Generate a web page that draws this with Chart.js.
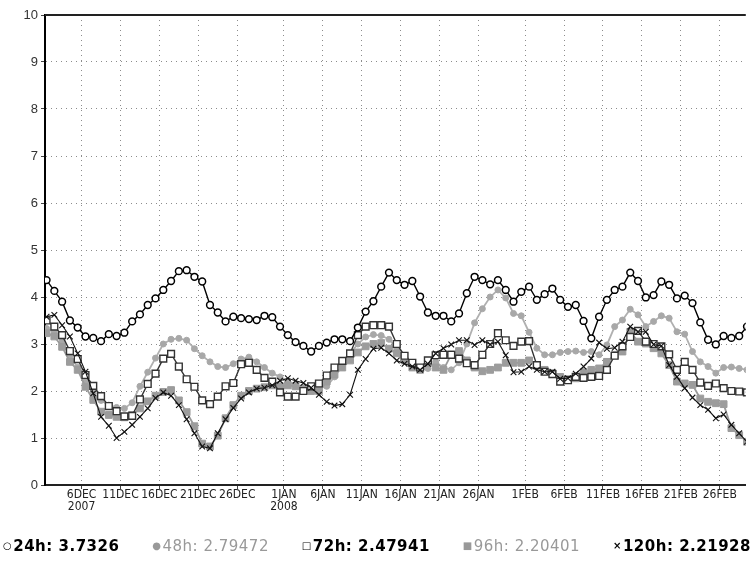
<!DOCTYPE html>
<html>
<head>
<meta charset="utf-8">
<script src="https://cdn.jsdelivr.net/npm/chart.js@4.4.1/dist/chart.umd.min.js"></script>
<style>
  body { margin: 0; background: #fff; }
  #wrap { position: relative; width: 752px; height: 562px; overflow: hidden; }
  #legend { position: absolute; left: 3px; top: 537px; width: 748px; height: 22px;
            display: flex; justify-content: space-between;
            font-family: 'DejaVu Sans', sans-serif; font-size: 15px; white-space: nowrap; }
  #legend .item { letter-spacing: 0.5px; }
  #legend .sym { font-size: 10px; position: relative; top: -2px; margin-right: 1px; }
</style>
</head>
<body>
<div id="wrap">
  <canvas id="chart-lines" width="752" height="562"></canvas>
  <div id="legend"></div>
</div>
<script>
// setup - one value per day, 1 Dec 2007 .. 29 Feb 2008
const tickDays = [5, 10, 15, 20, 25, 31, 36, 41, 46, 51, 56, 62, 67, 72, 77, 82, 87];
const tickLabels = [['6DEC', '2007'], '11DEC', '16DEC', '21DEC', '26DEC', ['1JAN', '2008'], '6JAN',
    '11JAN', '16JAN', '21JAN', '26JAN', '1FEB', '6FEB', '11FEB', '16FEB', '21FEB', '26FEB'];

const yTicks = [0, 1, 2, 3, 4, 5, 6, 7, 8, 9, 10];

const seriesNames = ['24h', '48h', '72h', '96h', '120h'];
const seriesMeans = ['3.7326', '2.79472', '2.47941', '2.20401', '2.21928'];

const h24 = [4.36, 4.13, 3.90, 3.50, 3.35, 3.16, 3.13, 3.06, 3.21, 3.17,
    3.24, 3.48, 3.63, 3.83, 3.97, 4.15, 4.34, 4.55, 4.57, 4.43,
    4.33, 3.83, 3.67, 3.48, 3.58, 3.55, 3.53, 3.51, 3.60, 3.57,
    3.37, 3.19, 3.04, 2.96, 2.84, 2.96, 3.03, 3.10, 3.10, 3.06,
    3.35, 3.69, 3.91, 4.22, 4.52, 4.36, 4.26, 4.34, 4.01, 3.67,
    3.60, 3.60, 3.48, 3.65, 4.08, 4.43, 4.36, 4.27, 4.36, 4.15,
    3.90, 4.11, 4.22, 3.94, 4.06, 4.18, 3.94, 3.79, 3.83, 3.49,
    3.12, 3.58, 3.94, 4.15, 4.22, 4.52, 4.34, 3.99, 4.04, 4.33,
    4.26, 3.97, 4.03, 3.87, 3.46, 3.09, 2.99, 3.17, 3.13, 3.17, 3.37];

const h48 = [3.33, 3.25, 3.05, 2.75, 2.50, 2.20, 1.95, 1.80, 1.70, 1.65,
    1.63, 1.75, 2.10, 2.40, 2.70, 3.00, 3.10, 3.12, 3.08, 2.90,
    2.75, 2.62, 2.52, 2.50, 2.58, 2.68, 2.72, 2.62, 2.50, 2.38,
    2.30, 2.20, 2.12, 2.08, 2.05, 2.05, 2.10, 2.30, 2.55, 2.80,
    3.00, 3.15, 3.20, 3.18, 3.10, 2.90, 2.70, 2.55, 2.45, 2.48,
    2.62, 2.50, 2.45, 2.60, 3.00, 3.45, 3.75, 4.00, 4.15, 3.98,
    3.65, 3.60, 3.25, 2.91, 2.77, 2.77, 2.82, 2.84, 2.85, 2.82,
    2.84, 2.77, 2.98, 3.37, 3.51, 3.74, 3.62, 3.37, 3.48, 3.60,
    3.55, 3.26, 3.21, 2.84, 2.62, 2.52, 2.38, 2.50, 2.51, 2.48, 2.45];

const h72 = [3.50, 3.37, 3.19, 2.85, 2.68, 2.34, 2.11, 1.89, 1.68, 1.57,
    1.46, 1.47, 1.82, 2.15, 2.37, 2.69, 2.79, 2.52, 2.25, 2.09,
    1.80, 1.72, 1.88, 2.10, 2.17, 2.57, 2.60, 2.45, 2.28, 2.20,
    1.97, 1.88, 1.88, 2.00, 2.10, 2.16, 2.33, 2.50, 2.64, 2.80,
    3.19, 3.37, 3.40, 3.40, 3.37, 3.00, 2.75, 2.60, 2.50, 2.65,
    2.76, 2.77, 2.77, 2.69, 2.59, 2.55, 2.77, 3.00, 3.23, 3.08,
    2.96, 3.05, 3.06, 2.55, 2.41, 2.36, 2.20, 2.23, 2.30, 2.28,
    2.30, 2.32, 2.45, 2.75, 2.95, 3.15, 3.28, 3.05, 3.00, 2.95,
    2.78, 2.45, 2.62, 2.45, 2.18, 2.11, 2.16, 2.06, 2.00, 1.99, 1.97];

const h96 = [3.23, 3.16, 2.94, 2.62, 2.45, 2.09, 1.81, 1.56, 1.49, 1.45,
    1.44, 1.49, 1.63, 1.78, 1.90, 1.98, 2.02, 1.80, 1.55, 1.25,
    0.88, 0.82, 1.05, 1.42, 1.70, 1.90, 2.00, 2.05, 2.08, 2.12,
    2.10, 2.12, 2.10, 2.05, 2.00, 2.00, 2.20, 2.35, 2.50, 2.65,
    2.82, 2.95, 3.00, 3.02, 2.90, 2.80, 2.65, 2.50, 2.45, 2.60,
    2.50, 2.45, 2.78, 2.85, 2.65, 2.50, 2.42, 2.45, 2.50, 2.60,
    2.60, 2.60, 2.65, 2.55, 2.45, 2.38, 2.30, 2.25, 2.27, 2.40,
    2.45, 2.48, 2.62, 2.77, 2.84, 3.26, 3.05, 3.01, 2.91, 2.80,
    2.55, 2.20, 2.16, 2.13, 1.84, 1.77, 1.74, 1.72, 1.21, 1.06, 0.92];

const h120 = [3.58, 3.62, 3.40, 3.16, 2.80, 2.41, 1.95, 1.45, 1.26, 1.00,
    1.13, 1.28, 1.45, 1.63, 1.85, 1.97, 1.90, 1.70, 1.40, 1.10,
    0.82, 0.78, 1.10, 1.40, 1.64, 1.84, 1.97, 2.05, 2.07, 2.12,
    2.22, 2.27, 2.22, 2.17, 2.07, 1.92, 1.77, 1.69, 1.72, 1.92,
    2.45, 2.68, 2.90, 2.92, 2.80, 2.65, 2.58, 2.52, 2.45, 2.58,
    2.80, 2.91, 2.99, 3.08, 3.08, 2.98, 3.08, 2.99, 3.05, 2.76,
    2.40, 2.41, 2.52, 2.45, 2.41, 2.41, 2.26, 2.27, 2.37, 2.52,
    2.69, 3.03, 2.90, 2.92, 3.05, 3.37, 3.26, 3.26, 2.99, 2.96,
    2.55, 2.30, 2.06, 1.86, 1.70, 1.60, 1.42, 1.50, 1.28, 1.10, 0.92];

// each daily value sits in the middle of its day
const toPoints = (values) => values.map((v, i) => ({ x: i + 0.5, y: v }));

// config
const styles = {
    '24h':  { line: '#000', fill: '#fff', border: '#000', shape: 'circle',   r: 3.4, lw: 1.4, bw: 1.5 },
    '48h':  { line: '#b0b0b0', fill: '#a8a8a8', border: '#a8a8a8', shape: 'circle', r: 3.0, lw: 1.8, bw: 1 },
    '72h':  { line: '#333', fill: '#fff', border: '#333', shape: 'rect',     r: 4.8, lw: 1.4, bw: 1.4 },
    '96h':  { line: '#9a9a9a', fill: '#9c9c9c', border: '#9c9c9c', shape: 'rect', r: 4.8, lw: 1.8, bw: 1 },
    '120h': { line: '#111', fill: '#111', border: '#111', shape: 'crossRot', r: 4.0, lw: 1.1, bw: 1.1 }
};

const allValues = { '24h': h24, '48h': h48, '72h': h72, '96h': h96, '120h': h120 };
// first dataset is drawn on top
const drawOrder = ['24h', '120h', '72h', '96h', '48h'];

const datasets = drawOrder.map(name => {
    const s = styles[name];
    return {
        label: name,
        data: toPoints(allValues[name]),
        borderColor: s.line,
        borderWidth: s.lw,
        backgroundColor: s.fill,
        pointStyle: s.shape,
        pointRadius: s.r,
        pointBackgroundColor: s.fill,
        pointBorderColor: s.border,
        pointBorderWidth: s.bw,
        tension: 0
    };
});

const frameTop = {
    id: 'frameTop',
    afterDraw(chart) {
        const { ctx, chartArea } = chart;
        ctx.save();
        ctx.strokeStyle = '#222';
        ctx.lineWidth = 2;
        ctx.beginPath();
        ctx.moveTo(chartArea.left, chartArea.top);
        ctx.lineTo(chartArea.right, chartArea.top);
        ctx.stroke();
        ctx.restore();
    }
};

const config = {
    type: 'line',
    data: { datasets },
    options: {
        responsive: false,
        animation: false,
        layout: { padding: { top: 15, right: 0, bottom: 0, left: 0 } },
        plugins: { legend: { display: false }, tooltip: { enabled: false } },
        scales: {
            x: {
                type: 'linear',
                min: 0.3,
                max: 90.35,
                afterBuildTicks: (scale) => { scale.ticks = tickDays.map(v => ({ value: v })); },
                afterFit: (scale) => { scale.height = 77; },
                ticks: {
                    autoSkip: false,
                    maxRotation: 0,
                    padding: 0,
                    color: '#222',
                    font: { family: "'Liberation Sans Narrow', 'DejaVu Sans Condensed', sans-serif", size: 12, lineHeight: 1.0 },
                    callback: (v) => tickLabels[tickDays.indexOf(v)]
                },
                grid: { color: '#8c8c8c', lineWidth: 1, tickLength: 4, tickColor: '#444' },
                border: { color: '#222', width: 2, dash: [1, 4] }
            },
            y: {
                min: 0,
                max: 10,
                afterBuildTicks: (scale) => { scale.ticks = yTicks.map(v => ({ value: v })); },
                afterFit: (scale) => { scale.width = 45; },
                ticks: {
                    padding: 3,
                    color: '#333',
                    font: { family: "'Liberation Sans', Arial, sans-serif", size: 13 }
                },
                grid: { color: '#8c8c8c', lineWidth: 1, tickLength: 4, tickColor: '#444' },
                border: { color: '#000', width: 2, dash: [1, 4] }
            }
        }
    },
    plugins: [frameTop]
};

// render init block
const myChart = new Chart(document.getElementById('chart-lines'), config);

// legend row under the chart
const legendSymbols = ['\u25CB', '\u25CF', '\u25A1', '\u25A0', '\u00D7'];
const legendColors = ['#000', '#999', '#000', '#999', '#000'];
const legendWeights = ['bold', 'normal', 'bold', 'normal', 'bold'];
const legendBox = document.getElementById('legend');
seriesNames.forEach((name, i) => {
    const item = document.createElement('span');
    item.className = 'item';
    item.style.color = legendColors[i];
    item.style.fontWeight = legendWeights[i];
    const sym = document.createElement('span');
    sym.className = 'sym';
    sym.textContent = legendSymbols[i];
    item.appendChild(sym);
    item.appendChild(document.createTextNode(name + ': ' + seriesMeans[i]));
    legendBox.appendChild(item);
});
</script>
</body>
</html>
